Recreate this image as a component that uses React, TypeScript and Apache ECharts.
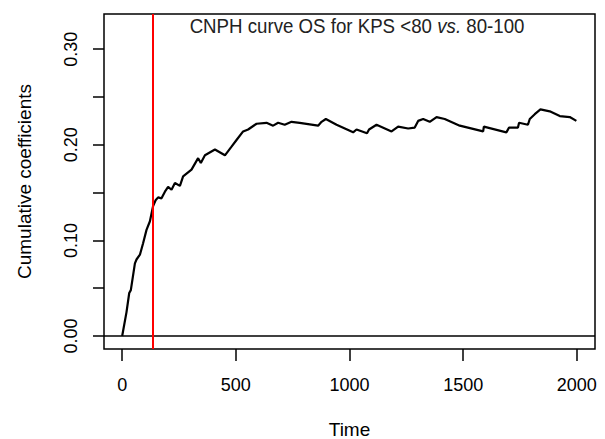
import React, { useEffect, useRef } from "react";
import * as echarts from "echarts";

const timePoints = [0, 19, 31, 38, 56, 63, 78, 92, 107, 122, 136, 147, 158, 173, 188, 202, 217, 232, 254, 268, 305, 334, 346, 364, 408, 452, 481, 503, 532, 554, 591, 635, 664, 686, 715, 745, 781, 862, 877, 896, 943, 1016, 1031, 1077, 1086, 1119, 1185, 1214, 1258, 1287, 1302, 1324, 1353, 1383, 1419, 1485, 1588, 1591, 1690, 1702, 1741, 1746, 1785, 1793, 1815, 1840, 1881, 1925, 1969, 1998];
const coefficients = [0, 0.025, 0.045, 0.048, 0.076, 0.080, 0.085, 0.097, 0.111, 0.120, 0.136, 0.142, 0.145, 0.144, 0.151, 0.156, 0.153, 0.160, 0.157, 0.167, 0.174, 0.186, 0.181, 0.189, 0.195, 0.189, 0.198, 0.205, 0.214, 0.216, 0.222, 0.223, 0.220, 0.223, 0.221, 0.224, 0.223, 0.220, 0.224, 0.227, 0.221, 0.213, 0.216, 0.212, 0.216, 0.221, 0.214, 0.219, 0.217, 0.218, 0.225, 0.227, 0.224, 0.229, 0.227, 0.220, 0.214, 0.219, 0.213, 0.218, 0.218, 0.223, 0.221, 0.227, 0.232, 0.237, 0.235, 0.230, 0.229, 0.225];
const xTicks = [0, 500, 1000, 1500, 2000];
const yTicks = [0, 0.05, 0.1, 0.15, 0.2, 0.25, 0.3];
const yLabels = [0, 0.1, 0.2, 0.3];
const cutTime = 136;
const titleText = "CNPH curve OS for KPS <80 ";
const titleItalic = "vs.";
const titleEnd = " 80-100";

const FONT = "'Liberation Sans', Arial, sans-serif";

export default function App() {
  const ref = useRef<HTMLDivElement>(null);
  useEffect(() => {
    if (!ref.current) return;
    const chart = echarts.init(ref.current, undefined, { renderer: "svg" });
    const data = timePoints.map((t, i) => [t, coefficients[i]]);
    chart.setOption({
      animation: false,
      backgroundColor: "#ffffff",
      graphic: [
        {
          type: "text",
          x: 357,
          y: 26,
          scaleX: 0.89,
          z: 10,
          style: {
            text: `${titleText}{i|${titleItalic}}${titleEnd}`,
            align: "center",
            verticalAlign: "middle",
            fontFamily: FONT,
            fontSize: 21,
            fill: "#222222",
            rich: {
              i: { fontFamily: FONT, fontSize: 21, fontStyle: "italic", fill: "#222222" },
            },
          },
        },
      ],
      grid: {
        left: 104,
        top: 14,
        width: 491,
        height: 335,
        outerBoundsMode: "none",
        containLabel: false,
        show: true,
        borderColor: "#000000",
        borderWidth: 1.5,
        backgroundColor: "transparent",
      },
      xAxis: {
        type: "value",
        min: -80,
        max: 2080,
        name: "Time",
        nameLocation: "middle",
        nameGap: 71,
        nameTextStyle: { fontFamily: FONT, fontSize: 19, color: "#000" },
        axisLine: { show: false, onZero: false },
        splitLine: { show: false },
        axisTick: {
          show: true,
          length: 12,
          customValues: xTicks,
          lineStyle: { color: "#000", width: 1.5 },
        },
        axisLabel: {
          customValues: xTicks,
          margin: 27,
          fontFamily: FONT,
          fontSize: 18,
          color: "#000",
          formatter: (v: number) => String(v),
        },
      },
      yAxis: {
        type: "value",
        min: -0.0136,
        max: 0.3368,
        name: "Cumulative coefficients",
        nameLocation: "middle",
        nameGap: 70,
        nameRotate: 90,
        nameTextStyle: { fontFamily: FONT, fontSize: 19, color: "#000" },
        axisLine: { show: false, onZero: false },
        splitLine: { show: false },
        axisTick: {
          show: true,
          length: 11,
          customValues: yTicks,
          lineStyle: { color: "#000", width: 1.5 },
        },
        axisLabel: {
          customValues: yLabels,
          rotate: 90,
          margin: 24,
          fontFamily: FONT,
          fontSize: 18,
          color: "#000",
          formatter: (v: number) => v.toFixed(2),
        },
      },
      series: [
        {
          type: "line",
          data,
          showSymbol: false,
          symbol: "none",
          lineStyle: { color: "#000", width: 2.2 },
          z: 3,
          markLine: {
            silent: true,
            symbol: ["none", "none"],
            label: { show: false },
            data: [
              { yAxis: 0, lineStyle: { color: "#000", width: 1.5, type: "solid" } },
              { xAxis: cutTime, lineStyle: { color: "#ff0000", width: 2, type: "solid" } },
            ],
          },
        },
      ],
    });
    return () => chart.dispose();
  }, []);
  return (
    <div
      ref={ref}
      style={{ position: "absolute", left: 0, top: 0, width: 605, height: 439 }}
    />
  );
}
